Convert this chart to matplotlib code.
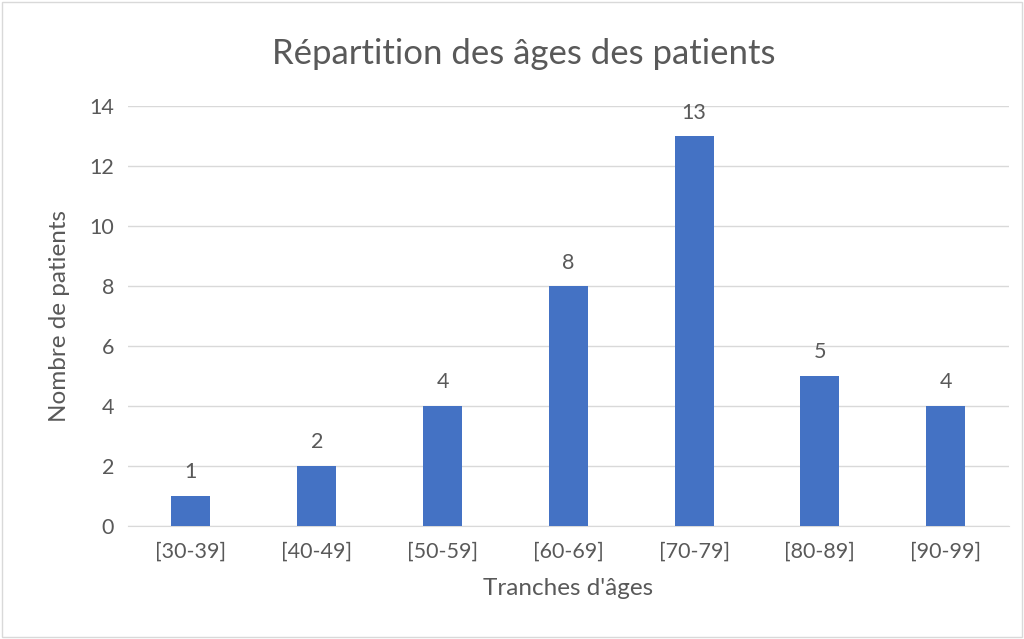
import matplotlib
matplotlib.use("Agg")
import matplotlib.pyplot as plt
from matplotlib.patches import Rectangle

plt.rcParams['font.family'] = ['Lato', 'DejaVu Sans']

tranches = ['[30-39]', '[40-49]', '[50-59]', '[60-69]', '[70-79]', '[80-89]', '[90-99]']
patients = [1, 2, 4, 8, 13, 5, 4]

gris = '#595959'
bleu = '#4472C4'

fig = plt.figure(figsize=(10.24, 6.39), dpi=100)
ax = fig.add_axes([0.125, 0.177, 0.86, 0.657])

x = list(range(len(tranches)))
ax.bar(x, patients, width=0.31, color=bleu, zorder=3)
for xi, v in zip(x, patients):
    ax.text(xi, v + 0.45, str(v), ha='center', va='bottom', fontsize=15.5, color=gris)

ax.set_xlim(-0.5, len(tranches) - 0.5)
ax.set_ylim(0, 14)
ax.set_yticks(range(0, 15, 2))
ax.set_xticks(x)
ax.set_xticklabels(tranches)
ax.tick_params(axis='both', length=0, labelsize=15.5, labelcolor=gris)
ax.tick_params(axis='x', pad=11)
ax.tick_params(axis='y', pad=10)
ax.grid(axis='y', color='#D9D9D9', linewidth=1, zorder=0)
for s in ['top', 'right', 'left']:
    ax.spines[s].set_visible(False)
ax.spines['bottom'].set_color('#D9D9D9')

ax.set_xlabel("Tranches d'âges", fontsize=17.5, color=gris, labelpad=12)
ax.set_ylabel('Nombre de patients', fontsize=17.5, color=gris, labelpad=14)
fig.text(0.511, 0.916, 'Répartition des âges des patients', ha='center', va='center',
         fontsize=25, color=gris)

fig.patches.append(Rectangle((0.002, 0.003), 0.996, 0.994, transform=fig.transFigure,
                             fill=False, edgecolor='#D9D9D9', linewidth=1))

fig.savefig('out.png', dpi=100)
